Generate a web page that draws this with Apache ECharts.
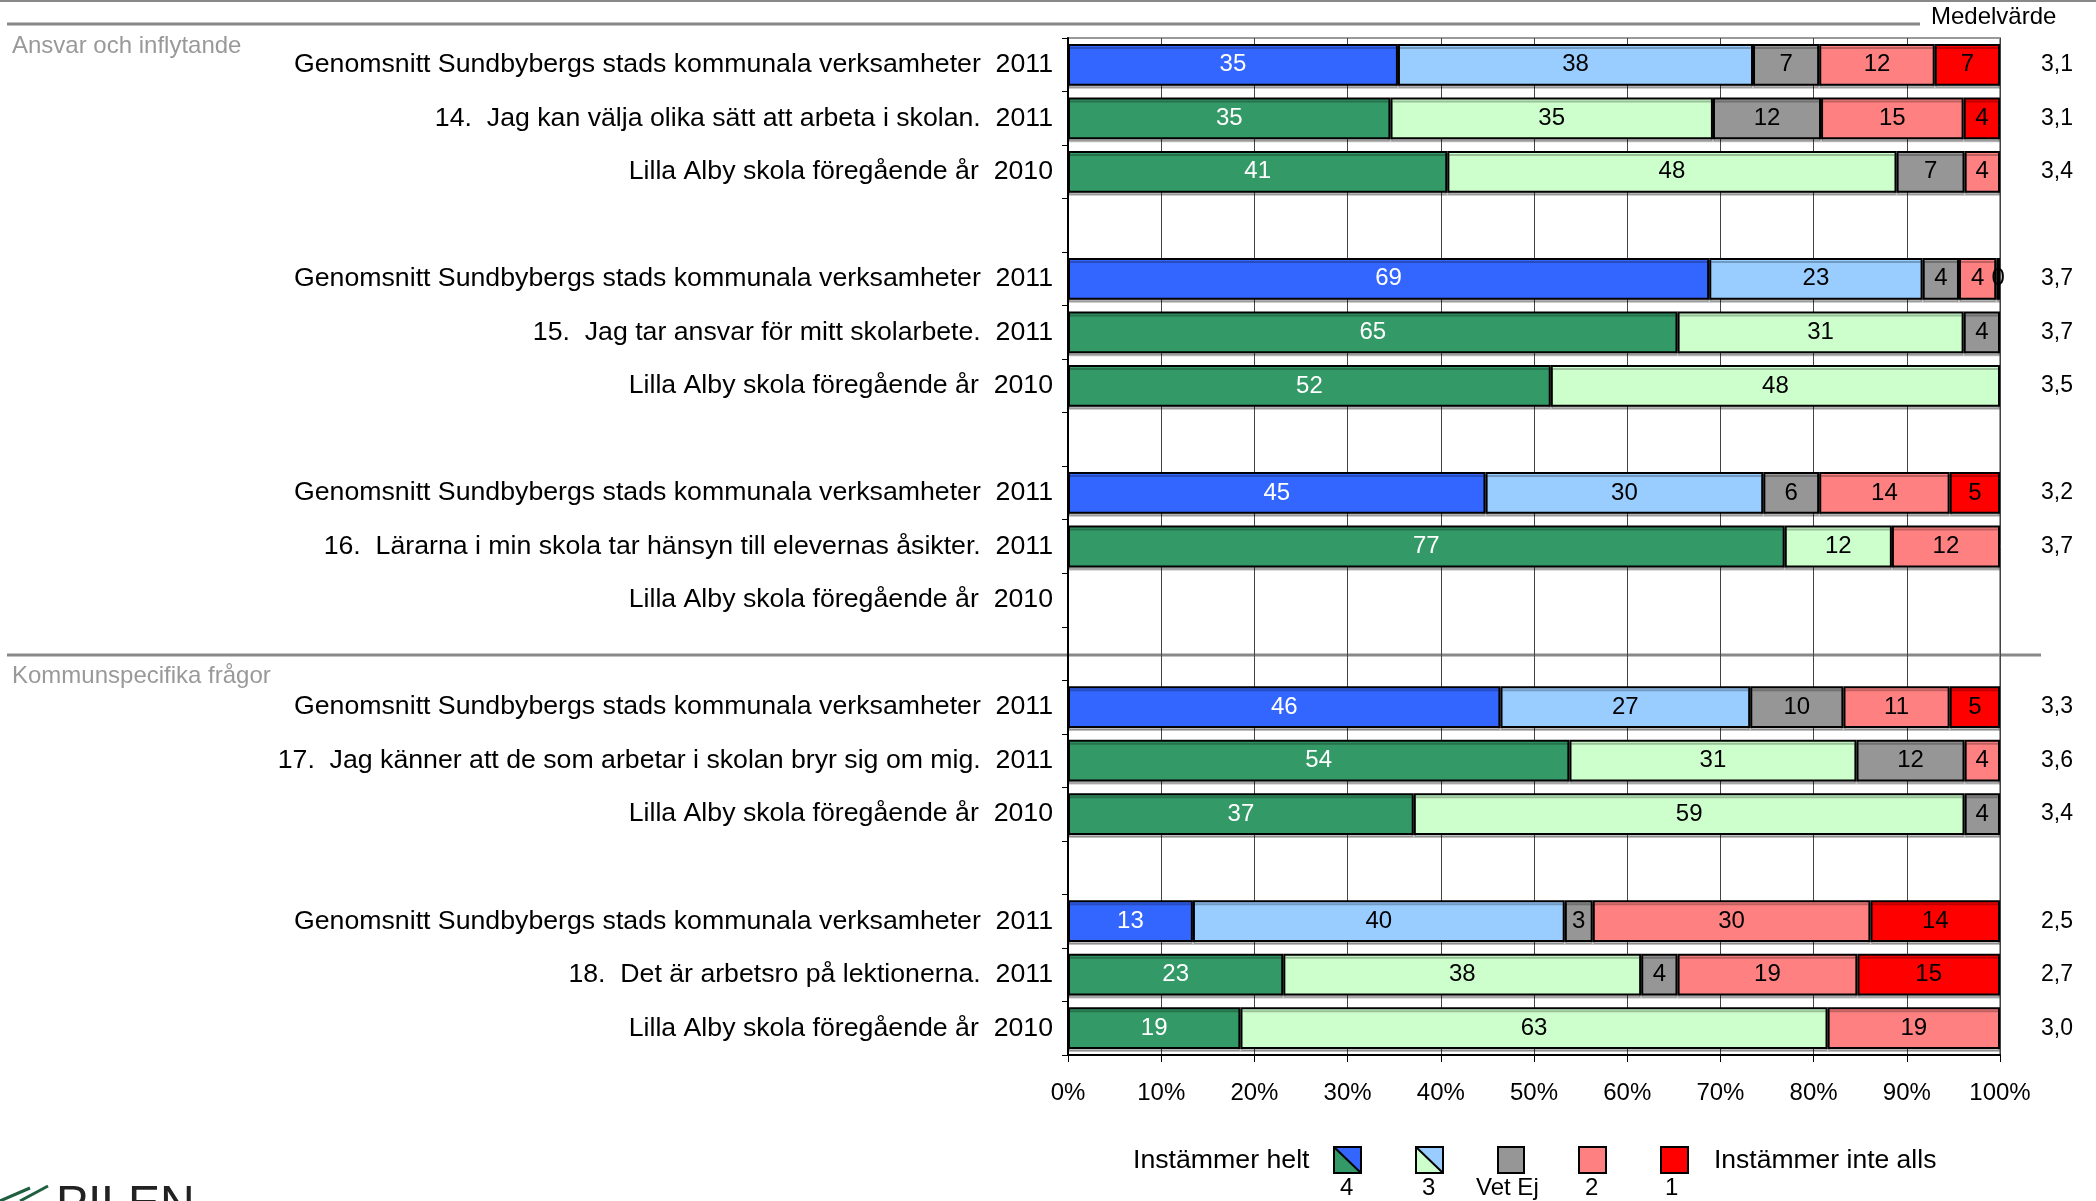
<!DOCTYPE html>
<html lang="sv">

<head>
    <meta charset="UTF-8">
    <title>Ansvar och inflytande</title>
    <script src="https://cdn.jsdelivr.net/npm/echarts@6/dist/echarts.min.js"></script>
    <style>
        html, body { margin: 0; padding: 0; background: #fff; }
        #chart { width: 2096px; height: 1201px; }
    </style>
</head>

<body>
    <div id="chart"></div>
    <script>
        // rader uppifrån och ned, tomma strängar = mellanrum
        const categories = [
            'Genomsnitt Sundbybergs stads kommunala verksamheter  2011',
            '14.  Jag kan välja olika sätt att arbeta i skolan.  2011',
            'Lilla Alby skola föregående år  2010',
            '',
            'Genomsnitt Sundbybergs stads kommunala verksamheter  2011',
            '15.  Jag tar ansvar för mitt skolarbete.  2011',
            'Lilla Alby skola föregående år  2010',
            '',
            'Genomsnitt Sundbybergs stads kommunala verksamheter  2011',
            '16.  Lärarna i min skola tar hänsyn till elevernas åsikter.  2011',
            'Lilla Alby skola föregående år  2010',
            '',
            'Genomsnitt Sundbybergs stads kommunala verksamheter  2011',
            '17.  Jag känner att de som arbetar i skolan bryr sig om mig.  2011',
            'Lilla Alby skola föregående år  2010',
            '',
            'Genomsnitt Sundbybergs stads kommunala verksamheter  2011',
            '18.  Det är arbetsro på lektionerna.  2011',
            'Lilla Alby skola föregående år  2010'
        ];
        const medelvarde = ['3,1', '3,1', '3,4', '', '3,7', '3,7', '3,5', '', '3,2', '3,7', '', '',
            '3,3', '3,6', '3,4', '', '2,5', '2,7', '3,0'];

        const seriesNames = ['4', '3', 'Vet Ej', '2', '1'];
        const v4 = [35.4, 34.6, 40.7, null, 68.8, 65.4, 51.8, null, 44.8, 76.9, null, null, 46.4, 53.8, 37.1, null, 13.4, 23.1, 18.5];
        const v3 = [38.1, 34.6, 48.2, null, 22.9, 30.7, 48.2, null, 29.8, 11.5, null, null, 26.8, 30.8, 59.1, null, 39.9, 38.4, 63.0];
        const vetEj = [7.1, 11.6, 7.3, null, 3.9, 3.9, null, null, 6.0, null, null, null, 10.0, 11.6, 3.8, null, 3.0, 3.9, null];
        const v2 = [12.4, 15.3, 3.8, null, 4.0, null, null, null, 14.0, 11.6, null, null, 11.4, 3.8, null, null, 29.8, 19.3, 18.5];
        const v1 = [7.0, 3.9, null, null, 0.4, null, null, null, 5.4, null, null, null, 5.4, null, null, null, 13.9, 15.3, null];
        const xTicks = ['0%', '10%', '20%', '30%', '40%', '50%', '60%', '70%', '80%', '90%', '100%'];

        const FONT = 'Liberation Sans, Arial, sans-serif';
        // färger: genomsnittsrader blå, skolans rader gröna
        const avgColors = ['#3366FF', '#99CCFF', '#969696', '#FF8080', '#FF0000'];
        const schoolColors = ['#339966', '#CCFFCC', '#969696', '#FF8080', '#FF0000'];
        const isAvg = categories.map(c => c.indexOf('Genomsnitt') === 0);

        const allValues = [v4, v3, vetEj, v2, v1];

        let series = allValues.map((vals, s) => ({
            name: seriesNames[s],
            type: 'bar',
            stack: 'tot',
            barWidth: '78%',
            data: vals.map((v, i) => ({
                value: v,
                itemStyle: { color: isAvg[i] ? avgColors[s] : schoolColors[s] }
            })),
            itemStyle: {
                borderColor: '#000',
                borderWidth: 2,
                shadowColor: 'rgba(0,0,0,0.25)',
                shadowOffsetY: 3
            },
            label: {
                show: true,
                position: 'inside',
                color: s === 0 ? '#fff' : '#000',
                fontFamily: FONT,
                fontSize: 24,
                formatter: p => p.value == null ? '' : String(Math.round(p.value))
            }
        }));

        let chart = echarts.init(document.getElementById('chart'));
        chart.setOption({
            animation: false,
            backgroundColor: '#fff',
            grid: {
                left: 1068, right: 96, top: 38, bottom: 146,
                show: true, borderColor: '#999', borderWidth: 2
            },
            xAxis: {
                type: 'value',
                min: 0, max: 100, interval: 10,
                axisLine: { show: true, lineStyle: { color: '#000', width: 2 } },
                axisTick: { show: true, length: 7, lineStyle: { color: '#000' } },
                splitLine: { show: true, lineStyle: { color: '#444', width: 1 } },
                axisLabel: {
                    margin: 26,
                    fontFamily: FONT, fontSize: 24, color: '#000',
                    formatter: v => xTicks[Math.round(v / 10)]
                }
            },
            yAxis: [{
                type: 'category',
                inverse: true,
                data: categories.map((c, i) => String(i)),
                axisLine: { show: true, lineStyle: { color: '#000', width: 2 } },
                axisTick: { show: true, length: 6, lineStyle: { color: '#000' } },
                axisLabel: {
                    margin: 15,
                    fontFamily: FONT, fontSize: 26.7, color: '#000',
                    formatter: v => categories[+v]
                }
            }, {
                type: 'category',
                inverse: true,
                position: 'right',
                data: medelvarde.map((m, i) => String(i)),
                axisLine: { show: false },
                axisTick: { show: false },
                axisLabel: {
                    margin: 41,
                    fontFamily: FONT, fontSize: 23, color: '#000',
                    formatter: v => medelvarde[+v]
                }
            }],
            series: series,
            graphic: [
                { type: 'line', shape: { x1: 0, y1: 1, x2: 2096, y2: 1 }, style: { stroke: '#888', lineWidth: 2 } },
                { type: 'line', shape: { x1: 7, y1: 24, x2: 1920, y2: 24 }, style: { stroke: '#888', lineWidth: 3 } },
                { type: 'line', shape: { x1: 7, y1: 655, x2: 2041, y2: 655 }, style: { stroke: '#888', lineWidth: 3 } },
                { type: 'text', left: 1931, top: 5, style: { text: 'Medelvärde', font: '24px ' + FONT, fill: '#000' } },
                { type: 'text', left: 12, top: 34, style: { text: 'Ansvar och inflytande', font: '24px ' + FONT, fill: '#999' } },
                { type: 'text', left: 12, top: 664, style: { text: 'Kommunspecifika frågor', font: '24px ' + FONT, fill: '#999' } },
                // legend
                { type: 'text', left: 1133, top: 1147, style: { text: 'Instämmer helt', font: '26.7px ' + FONT, fill: '#000' } },
                { type: 'text', left: 1714, top: 1147, style: { text: 'Instämmer inte alls', font: '26.5px ' + FONT, fill: '#000' } },
                { type: 'polygon', shape: { points: [[1334, 1147], [1361, 1173], [1334, 1173]] }, style: { fill: '#339966' } },
                { type: 'polygon', shape: { points: [[1334, 1147], [1361, 1147], [1361, 1173]] }, style: { fill: '#3366FF' } },
                { type: 'rect', shape: { x: 1334, y: 1147, width: 27, height: 26 }, style: { fill: 'none', stroke: '#000', lineWidth: 2 } },
                { type: 'line', shape: { x1: 1334, y1: 1147, x2: 1361, y2: 1173 }, style: { stroke: '#000', lineWidth: 2 } },
                { type: 'polygon', shape: { points: [[1416, 1147], [1443, 1173], [1416, 1173]] }, style: { fill: '#CCFFCC' } },
                { type: 'polygon', shape: { points: [[1416, 1147], [1443, 1147], [1443, 1173]] }, style: { fill: '#99CCFF' } },
                { type: 'rect', shape: { x: 1416, y: 1147, width: 27, height: 26 }, style: { fill: 'none', stroke: '#000', lineWidth: 2 } },
                { type: 'line', shape: { x1: 1416, y1: 1147, x2: 1443, y2: 1173 }, style: { stroke: '#000', lineWidth: 2 } },
                { type: 'rect', shape: { x: 1498, y: 1147, width: 26, height: 26 }, style: { fill: '#969696', stroke: '#000', lineWidth: 2 } },
                { type: 'rect', shape: { x: 1579, y: 1147, width: 27, height: 26 }, style: { fill: '#FF8080', stroke: '#000', lineWidth: 2 } },
                { type: 'rect', shape: { x: 1661, y: 1147, width: 27, height: 26 }, style: { fill: '#FF0000', stroke: '#000', lineWidth: 2 } },
                { type: 'text', left: 1340, top: 1176, style: { text: '4', font: '24px ' + FONT, fill: '#000' } },
                { type: 'text', left: 1422, top: 1176, style: { text: '3', font: '24px ' + FONT, fill: '#000' } },
                { type: 'text', left: 1476, top: 1176, style: { text: 'Vet Ej', font: '24px ' + FONT, fill: '#000' } },
                { type: 'text', left: 1585, top: 1176, style: { text: '2', font: '24px ' + FONT, fill: '#000' } },
                { type: 'text', left: 1665, top: 1176, style: { text: '1', font: '24px ' + FONT, fill: '#000' } },
                // logga, avskuren i nederkant
                { type: 'line', shape: { x1: 0, y1: 1201, x2: 30, y2: 1188 }, style: { stroke: '#1f5f3f', lineWidth: 3 } },
                { type: 'line', shape: { x1: 20, y1: 1201, x2: 48, y2: 1186 }, style: { stroke: '#1f5f3f', lineWidth: 3 } },
                { type: 'text', left: 56, top: 1182, style: { text: 'PILEN', font: '48px ' + FONT, fill: '#222' } }
            ]
        });
    </script>
</body>

</html>
